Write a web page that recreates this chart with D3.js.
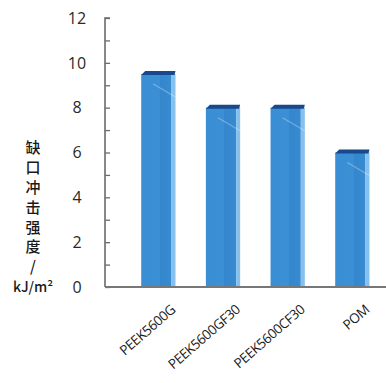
<!DOCTYPE html>
<html><head><meta charset="utf-8">
<script src="https://cdn.jsdelivr.net/npm/d3@7/dist/d3.min.js"></script>
<style>
html,body{margin:0;padding:0;background:#fff;}
svg{display:block;}
</style></head>
<body>
<svg id="chart" width="386" height="383"></svg>
<script>
const categories = ["PEEK5600G", "PEEK5600GF30", "PEEK5600CF30", "POM"];
const values = [9.5, 8.0, 8.0, 6.0];
const yTickLabels = [0, 2, 4, 6, 8, 10, 12];
const yTitleChars = ["缺", "口", "冲", "击", "强", "度", "/", "kJ/m²"];

const svg = d3.select("#chart");
const y = d3.scaleLinear().domain([0, 12]).range([287, 18]);
const x = d3.scaleBand().domain(categories).range([105, 385])
  .paddingInner(0.47).paddingOuter(0.4).align(0.7);

const defs = svg.append("defs");
const grad = defs.append("linearGradient").attr("id", "front").attr("x1", 0).attr("x2", 1).attr("y1", 0).attr("y2", 0);
grad.append("stop").attr("offset", "0%").attr("stop-color", "#398ed4");
grad.append("stop").attr("offset", "60%").attr("stop-color", "#3b90d5");
grad.append("stop").attr("offset", "62%").attr("stop-color", "#3486cd");
grad.append("stop").attr("offset", "100%").attr("stop-color", "#388bd0");

const bw = x.bandwidth();
const side = 4;
const g = svg.append("g");
const bars = g.selectAll("g.bar").data(categories).enter().append("g").attr("class", "bar");
bars.append("rect")
  .attr("x", d => x(d))
  .attr("y", (d, i) => y(values[i]))
  .attr("width", bw - side)
  .attr("height", (d, i) => y(0) - y(values[i]))
  .attr("fill", "url(#front)");
bars.append("rect")
  .attr("x", d => x(d) + bw - side)
  .attr("y", (d, i) => y(values[i]))
  .attr("width", side)
  .attr("height", (d, i) => y(0) - y(values[i]))
  .attr("fill", "#86c0ec");
bars.append("path")
  .attr("d", (d, i) => {
    const x0 = x(d), x1 = x(d) + bw, t = y(values[i]);
    return `M${x0},${t + 1} L${x0 + 4},${t - 3} L${x1},${t - 3} L${x1 - 1},${t + 1} Z`;
  })
  .attr("fill", "#17498c");
bars.append("line")
  .attr("x1", d => x(d) + bw * 0.35)
  .attr("x2", d => x(d) + bw)
  .attr("y1", (d, i) => y(values[i]) + 10)
  .attr("y2", (d, i) => y(values[i]) + 23)
  .attr("stroke", "#ffffff").attr("stroke-opacity", 0.3).attr("stroke-width", 1.2);

const yAxis = d3.axisRight(y).tickValues(d3.range(0, 13, 1)).tickSize(5).tickFormat("");
const ya = svg.append("g").attr("transform", "translate(105,0)").call(yAxis);
ya.select(".domain").attr("stroke", "#6b6b6b").attr("stroke-width", 1.6).attr("d", `M5,${y(12)}H0V${y(0)}`);
ya.selectAll(".tick line").attr("stroke", "#6b6b6b").attr("stroke-width", 1.3);

svg.append("g").selectAll("text").data(yTickLabels).enter().append("text")
  .attr("x", 77).attr("y", d => y(d)).attr("dy", "0.36em")
  .attr("text-anchor", "middle")
  .attr("font-family", "'Open Sans', sans-serif").attr("font-size", 16)
  .attr("fill", "#2a2a2a").text(d => d);

const xa = svg.append("g").attr("transform", `translate(0,${y(0)})`)
  .call(d3.axisBottom(x).tickSize(0).tickFormat(""));
xa.select(".domain").attr("stroke", "#777").attr("stroke-width", 2).attr("d", `M105,0H386`);

svg.append("g").selectAll("text").data(categories).enter().append("text")
  .attr("transform", d => `translate(${x(d) + bw / 2 + 18},311) rotate(-41)`)
  .attr("text-anchor", "end")
  .attr("font-family", "'Open Sans', sans-serif").attr("font-size", 13.5)
  .attr("letter-spacing", -0.4)
  .attr("fill", "#1a1a1a").text(d => d);

svg.append("g").selectAll("text").data(yTitleChars).enter().append("text")
  .attr("x", 33).attr("y", (d, i) => 148 + i * 19.8).attr("dy", "0.36em")
  .attr("text-anchor", "middle")
  .attr("font-family", "'Noto Sans CJK SC', 'Open Sans', sans-serif")
  .attr("font-weight", 500)
  .attr("font-size", (d, i) => i === yTitleChars.length - 1 ? 14 : 15)
  .attr("fill", "#1a1a1a").text(d => d);
</script>
</body></html>
